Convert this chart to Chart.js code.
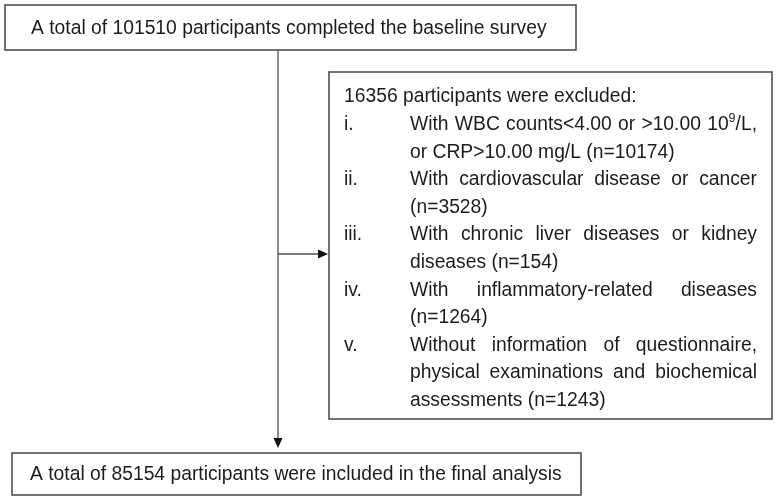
<!DOCTYPE html>
<html>
<head>
<meta charset="utf-8">
<script src="https://cdn.jsdelivr.net/npm/chart.js@4/dist/chart.umd.min.js"></script>
<style>
  html, body { margin: 0; padding: 0; background: #fff; }
</style>
</head>
<body>
<canvas id="flow" width="776" height="501"></canvas>
<script>
// flow counts
const baselineCount = 101510;
const excludedCount = 16356;
const finalCount = 85154;

// exclusion reasons (line breaks as in the original figure, ^ marks superscript)
const reasonLabels = ["i.", "ii.", "iii.", "iv.", "v."];
const reasonLines = [
  ["With WBC counts<4.00 or >10.00 10^9/L,", "or CRP>10.00 mg/L"],
  ["With cardiovascular disease or cancer", ""],
  ["With chronic liver diseases or kidney", "diseases"],
  ["With inflammatory-related diseases", ""],
  ["Without information of questionnaire,", "physical examinations and biochemical", "assessments"]
];
const reasonCounts = [10174, 3528, 154, 1264, 1243];

const topText = `A total of ${baselineCount} participants completed the baseline survey`;
const excludedTitle = `${excludedCount} participants were excluded:`;
const bottomText = `A total of ${finalCount} participants were included in the final analysis`;

// layout (in the 776x501 value space of the hidden axes)
const layout = {
  top: { x0: 5, y0: 5, x1: 576, y1: 50 },
  side: { x0: 329, y0: 72, x1: 772, y1: 419 },
  bottom: { x0: 12, y0: 453, x1: 581, y1: 495 },
  trunkX: 278,
  branchY: 254,
  textPad: 26,
  labelX: 344,
  itemX: 410,
  itemRight: 757,
  firstLineY: 97,
  lineStep: 27.6
};

const font = '19.3px "Liberation Sans", Arial, sans-serif';
const supFont = '12.5px "Liberation Sans", Arial, sans-serif';
const ink = "#1c1c1c";
const lineColor = "#505050";

function wordParts(word) {
  const i = word.indexOf("^");
  if (i < 0) return [{ t: word, sup: false }];
  return [
    { t: word.slice(0, i), sup: false },
    { t: word.slice(i + 1, i + 2), sup: true },
    { t: word.slice(i + 2), sup: false }
  ];
}

function measureWord(ctx, word) {
  let w = 0;
  wordParts(word).forEach((p) => {
    ctx.font = p.sup ? supFont : font;
    w += ctx.measureText(p.t).width;
  });
  ctx.font = font;
  return w;
}

function drawWord(ctx, word, x, y) {
  wordParts(word).forEach((p) => {
    ctx.font = p.sup ? supFont : font;
    ctx.fillText(p.t, x, p.sup ? y - 6 : y);
    x += ctx.measureText(p.t).width;
  });
  ctx.font = font;
}

function drawLine(ctx, text, x, y, width, justify) {
  const words = text.split(" ").filter((w) => w.length);
  if (!justify || words.length < 2) {
    let cx = x;
    const space = ctx.measureText(" ").width;
    words.forEach((w) => {
      drawWord(ctx, w, cx, y);
      cx += measureWord(ctx, w) + space;
    });
    return;
  }
  const total = words.reduce((s, w) => s + measureWord(ctx, w), 0);
  const gap = (width - total) / (words.length - 1);
  let cx = x;
  words.forEach((w) => {
    drawWord(ctx, w, cx, y);
    cx += measureWord(ctx, w) + gap;
  });
}

const flowPlugin = {
  id: "flowBoxes",
  afterDatasetsDraw(chart) {
    const ctx = chart.ctx;
    const sx = chart.scales.x;
    const sy = chart.scales.y;
    const px = (v) => sx.getPixelForValue(v);
    const py = (v) => sy.getPixelForValue(v);

    ctx.save();
    // boxes
    ctx.strokeStyle = lineColor;
    ctx.lineWidth = 1.6;
    [layout.top, layout.side, layout.bottom].forEach((b) => {
      ctx.fillStyle = "#fff";
      ctx.fillRect(px(b.x0), py(b.y0), px(b.x1) - px(b.x0), py(b.y1) - py(b.y0));
      ctx.strokeRect(px(b.x0), py(b.y0), px(b.x1) - px(b.x0), py(b.y1) - py(b.y0));
    });

    // arrow heads
    ctx.fillStyle = "#111";
    const tipY = py(layout.bottom.y0 - 5);
    ctx.beginPath();
    ctx.moveTo(px(layout.trunkX), tipY);
    ctx.lineTo(px(layout.trunkX) - 4.5, tipY - 10);
    ctx.lineTo(px(layout.trunkX) + 4.5, tipY - 10);
    ctx.closePath();
    ctx.fill();
    const tipX = px(layout.side.x0) - 1;
    ctx.beginPath();
    ctx.moveTo(tipX, py(layout.branchY));
    ctx.lineTo(tipX - 10, py(layout.branchY) - 4.5);
    ctx.lineTo(tipX - 10, py(layout.branchY) + 4.5);
    ctx.closePath();
    ctx.fill();

    // texts
    ctx.fillStyle = ink;
    ctx.font = font;
    ctx.textBaseline = "middle";
    ctx.textAlign = "left";
    ctx.fillText(topText, px(layout.top.x0 + layout.textPad), py((layout.top.y0 + layout.top.y1) / 2 + 1));
    ctx.fillText(bottomText, px(layout.bottom.x0 + 18), py((layout.bottom.y0 + layout.bottom.y1) / 2 + 1));

    let y = layout.firstLineY;
    ctx.fillText(excludedTitle, px(layout.labelX), py(y));
    const w = px(layout.itemRight) - px(layout.itemX);
    reasonLabels.forEach((lab, i) => {
      y += layout.lineStep;
      ctx.fillText(lab, px(layout.labelX), py(y));
      const lines = reasonLines[i].slice();
      const last = lines.length - 1;
      lines[last] = (lines[last] + " (n=" + reasonCounts[i] + ")").trim();
      lines.forEach((ln, j) => {
        if (j > 0) y += layout.lineStep;
        drawLine(ctx, ln, px(layout.itemX), py(y), w, j < last);
      });
    });
    ctx.restore();
  }
};

new Chart(document.getElementById("flow").getContext("2d"), {
  type: "scatter",
  data: {
    datasets: [
      {
        label: "trunk",
        data: [
          { x: layout.trunkX, y: layout.top.y1 },
          { x: layout.trunkX, y: layout.bottom.y0 - 12 }
        ],
        showLine: true,
        borderColor: lineColor,
        borderWidth: 1.3,
        pointRadius: 0
      },
      {
        label: "branch",
        data: [
          { x: layout.trunkX, y: layout.branchY },
          { x: layout.side.x0 - 10, y: layout.branchY }
        ],
        showLine: true,
        borderColor: lineColor,
        borderWidth: 1.3,
        pointRadius: 0
      }
    ]
  },
  options: {
    responsive: false,
    animation: false,
    layout: { padding: 0 },
    plugins: { legend: { display: false }, tooltip: { enabled: false } },
    scales: {
      x: { type: "linear", min: 0, max: 776, display: false },
      y: { type: "linear", min: 0, max: 501, reverse: true, display: false }
    }
  },
  plugins: [flowPlugin]
});
</script>
</body>
</html>
